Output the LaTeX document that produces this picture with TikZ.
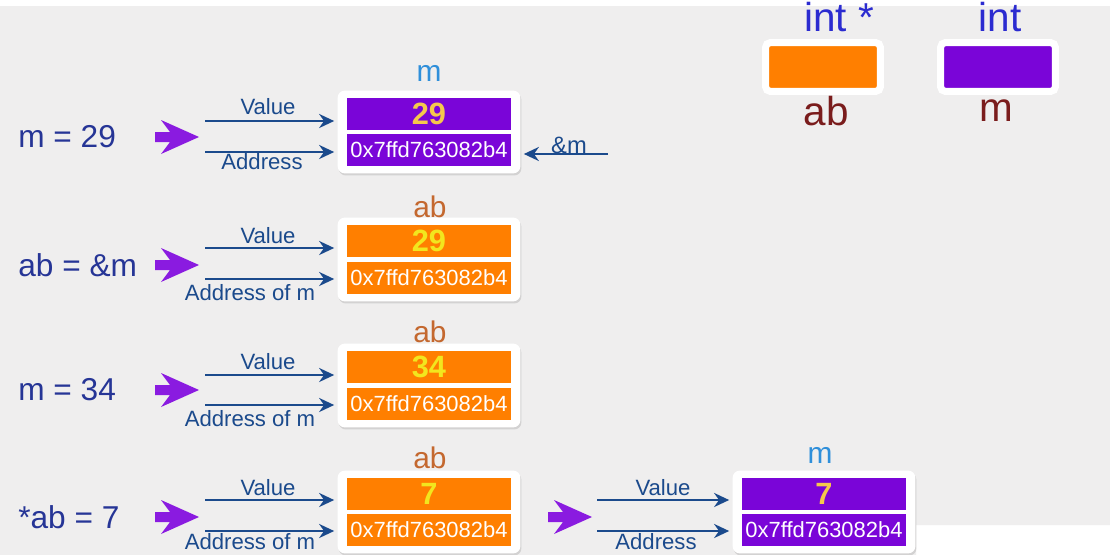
\documentclass[tikz,border=0pt]{standalone}
\usepackage{fontspec}
\setmainfont{Liberation Sans}
\usetikzlibrary{positioning,shadows,arrows.meta,fit,backgrounds}

\definecolor{cellpurple}{HTML}{7A05D8}
\definecolor{cellorange}{HTML}{FF7F00}
\definecolor{linkblue}{HTML}{1B4A8C}
\definecolor{exprblue}{HTML}{263596}
\definecolor{valyellow}{HTML}{F2E61E}
\definecolor{valgold}{HTML}{F5C84C}
\definecolor{mblue}{HTML}{2F8FDA}
\definecolor{abbrown}{HTML}{C4682F}
\definecolor{typeblue}{HTML}{2B2BD0}
\definecolor{varred}{HTML}{7A1C1C}
\definecolor{bggray}{HTML}{EFEEEE}
\definecolor{bigarrow}{HTML}{8A1BE0}

\begin{document}
\begin{tikzpicture}[x=0.02cm,y=-0.02cm,
    cell/.style={minimum width=3.3cm,minimum height=0.64cm,inner sep=0pt},
    valcell/.style={cell,font=\fontsize{17.5}{17.5}\selectfont\bfseries},
    adrcell/.style={cell,text=white,font=\fontsize{12.5}{12.5}\selectfont},
    frame/.style={fill=white,rounded corners=4pt,inner xsep=0.17cm,inner ysep=0.14cm,
      drop shadow={opacity=0.25,shadow xshift=0.6pt,shadow yshift=-1.2pt}},
    link/.style={draw=linkblue,line width=1.4pt,
      -{Stealth[length=0.3cm,width=0.28cm]},shorten >=0.24cm},
    lbl/.style={text=linkblue,font=\fontsize{12.6}{12.6}\selectfont,inner sep=0pt},
    expr/.style={text=exprblue,font=\fontsize{18}{18}\selectfont,anchor=west,inner sep=0pt},
    title/.style={font=\fontsize{17}{17}\selectfont,inner sep=0pt},
    key/.style={minimum width=2.3cm,minimum height=0.98cm,draw=white,line width=0.14cm,
      rounded corners=0.1cm,drop shadow={opacity=0.25,shadow xshift=0.6pt,shadow yshift=-1.2pt}},
    typ/.style={font=\fontsize{23}{23}\selectfont,inner sep=0pt}]
  \useasboundingbox (0,0) rectangle (1110,555);
  \begin{pgfonlayer}{background}
    \fill[white] (0,0) rectangle (1110,555);
    \fill[bggray] (0,6) -- (1110,6) -- (1110,525) -- (916,525) -- (916,555) -- (0,555) -- cycle;
  \end{pgfonlayer}

  % legend: int * ab, int m
  \node[key,fill=cellorange] (k1) at (823,67) {};
  \node[key,fill=cellpurple] (k2) at (998,67) {};
  \node[typ,text=typeblue] (kt1) at (839,17) {int *};
  \node[typ,text=typeblue] (kt2) at (1000,17) {int};
  \node[typ,text=varred] (kn1) at (826,111) {ab};
  \node[typ,text=varred] (kn2) at (996,111) {m};

  % the fat purple arrows
  \foreach \x/\y in {155/137,155/265,155/390,155/517,548/517}
    \fill[bigarrow] (\x,\y-5) -- ++(15,0) -- ++(-9,-12) -- (\x+44,\y)
      -- (\x+6,\y+17) -- (\x+15,\y+5) -- (\x,\y+5) -- cycle;

  % m = 29
  \node[expr] (e1) at (18,137) {m = 29};
  \node[valcell,fill=cellpurple,text=valgold] (v1) at (429,114) {29};
  \node[adrcell,fill=cellpurple] (a1) at (429,150) {0x7ffd763082b4};
  \node[title,text=mblue] (t1) at (429,73) {m};
  \coordinate (vs1) at (205,121);
  \coordinate (as1) at (205,152);
  \coordinate (rs1) at (608,154);
  \draw[link] (vs1) -- (vs1 -| v1.west);
  \draw[link] (as1) -- (as1 -| a1.west);
  \draw[link] (rs1) -- (rs1 -| a1.east);
  \node[lbl] (lv1) at (268,107) {Value};
  \node[lbl] (la1) at (262,162) {Address};
  \node[lbl,font=\fontsize{13.5}{13.5}\selectfont] (lr1) at (569,145) {\&m};

  % ab = &m
  \node[expr] (e2) at (18,265) {ab = \&m};
  \node[valcell,fill=cellorange,text=valyellow] (v2) at (429,241) {29};
  \node[adrcell,fill=cellorange] (a2) at (429,278) {0x7ffd763082b4};
  \node[title,text=abbrown] (t2) at (430,207) {ab};
  \coordinate (vs2) at (205,248);
  \coordinate (as2) at (205,279);
  \draw[link] (vs2) -- (vs2 -| v2.west);
  \draw[link] (as2) -- (as2 -| a2.west);
  \node[lbl] (lv2) at (268,236) {Value};
  \node[lbl] (la2) at (250,293) {Address of m};

  % m = 34
  \node[expr] (e3) at (18,390) {m = 34};
  \node[valcell,fill=cellorange,text=valyellow] (v3) at (429,367) {34};
  \node[adrcell,fill=cellorange] (a3) at (429,404) {0x7ffd763082b4};
  \node[title,text=abbrown] (t3) at (430,332) {ab};
  \coordinate (vs3) at (205,375);
  \coordinate (as3) at (205,405);
  \draw[link] (vs3) -- (vs3 -| v3.west);
  \draw[link] (as3) -- (as3 -| a3.west);
  \node[lbl] (lv3) at (268,362) {Value};
  \node[lbl] (la3) at (250,419) {Address of m};

  % *ab = 7
  \node[expr] (e4) at (18,517) {*ab = 7};
  \node[valcell,fill=cellorange,text=valyellow] (v4) at (429,494) {7};
  \node[adrcell,fill=cellorange] (a4) at (429,530) {0x7ffd763082b4};
  \node[title,text=abbrown] (t4) at (430,458) {ab};
  \coordinate (vs4) at (205,500);
  \coordinate (as4) at (205,531);
  \draw[link] (vs4) -- (vs4 -| v4.west);
  \draw[link] (as4) -- (as4 -| a4.west);
  \node[lbl] (lv4) at (268,488) {Value};
  \node[lbl] (la4) at (250,542) {Address of m};

  % ... and m afterwards
  \node[valcell,fill=cellpurple,text=valgold] (v5) at (824,494) {7};
  \node[adrcell,fill=cellpurple] (a5) at (824,530) {0x7ffd763082b4};
  \node[title,text=mblue] (t5) at (820,455) {m};
  \coordinate (vs5) at (597,500);
  \coordinate (as5) at (597,531);
  \draw[link] (vs5) -- (vs5 -| v5.west);
  \draw[link] (as5) -- (as5 -| a5.west);
  \node[lbl] (lv5) at (663,488) {Value};
  \node[lbl] (la5) at (656,542) {Address};

  % white frames behind the cells
  \begin{pgfonlayer}{background}
    \foreach \i in {1,...,5}
      \node[frame,fit=(v\i)(a\i)] (f\i) {};
  \end{pgfonlayer}
\end{tikzpicture}
\end{document}
